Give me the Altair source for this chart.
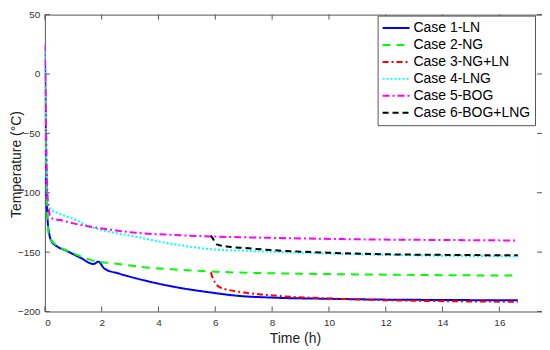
import altair as alt
import pandas as pd

cases = ["Case 1-LN", "Case 2-NG", "Case 3-NG+LN", "Case 4-LNG", "Case 5-BOG", "Case 6-BOG+LNG"]
colors = ["#0000FF", "#00FF00", "#FF0000", "#00FFFF", "#FF00FF", "#000000"]
dashes = [[1, 0], [8, 6], [6, 3, 2, 3], [2, 2], [7, 3, 2, 3], [6, 4]]

c1_x = [0, 0.02, 0.04, 0.07, 0.1, 0.15, 0.24, 0.42, 0.77, 1.24, 1.72, 1.88, 2.1, 2.6, 3.2, 4.5, 5.84, 6.8, 8.0, 10, 12, 14, 16.65]
c1_y = [25, -20, -70, -110, -124, -134, -141, -145, -149, -154.6, -160, -158, -164, -168, -172, -179, -184, -186.8, -188.3, -189.3, -190, -190.3, -190.6]
c2_x = [0, 0.02, 0.05, 0.08, 0.13, 0.2, 0.3, 0.5, 0.8, 1.2, 1.6, 2.6, 3.4, 4.5, 6, 8, 10, 12, 14, 16.65]
c2_y = [25, -25, -80, -115, -134, -139, -142, -145.5, -149, -153, -156.5, -160, -162.5, -164.5, -166.5, -167.8, -168.5, -169, -169.4, -169.8]
c3_x = [5.84, 5.9, 6.0, 6.15, 6.5, 7.0, 8.0, 10, 12, 14, 16.65]
c3_y = [-167, -171, -176, -179.5, -182, -184, -186.5, -189, -190.5, -191.3, -191.8]
c4_x = [0, 0.02, 0.05, 0.08, 0.13, 0.2, 0.5, 1.0, 1.6, 2.3, 3.2, 4.0, 5.0, 5.84, 7, 8, 10, 12, 14, 16.65]
c4_y = [25, -10, -60, -100, -110, -113.5, -117.5, -122, -128.6, -133, -137, -141, -145, -147.5, -148.8, -149.7, -151.2, -152.3, -153, -153.5]
c5_x = [0, 0.02, 0.05, 0.1, 0.19, 0.3, 0.54, 1.0, 1.6, 2.5, 3.2, 4.5, 5.84, 8, 11, 14, 16.65]
c5_y = [25, -10, -60, -105, -120, -122, -123, -125.8, -128.6, -131.8, -133.7, -135.5, -136.8, -138, -139.2, -139.8, -140.2]
c6_x = [5.84, 5.9, 5.95, 6.05, 6.5, 7.0, 8.0, 10, 12, 14, 16.65]
c6_y = [-136, -138, -140, -143.5, -145.5, -146.5, -148.3, -150.5, -151.8, -152.3, -152.7]

x_ticks = [0, 2, 4, 6, 8, 10, 12, 14, 16]
y_ticks = [-200, -150, -100, -50, 0, 50]

W, H = 499, 298
FONT = "Liberation Sans"

series = [(c1_x, c1_y), (c2_x, c2_y), (c3_x, c3_y), (c4_x, c4_y), (c5_x, c5_y), (c6_x, c6_y)]
rows = []
for name, (xs, ys) in zip(cases, series):
    for i, (xv, yv) in enumerate(zip(xs, ys)):
        rows.append({"case": name, "t": xv, "T": yv, "i": i})
df = pd.DataFrame(rows)

xscale = alt.Scale(domain=[0, 17.5], nice=False, zero=False)
yscale = alt.Scale(domain=[-200, 50], nice=False, zero=False)

lines = alt.Chart(df).mark_line(strokeWidth=2, interpolate="monotone", clip=True).encode(
    x=alt.X("t:Q", scale=xscale, axis=alt.Axis(
        values=x_ticks, title="Time (h)", ticks=False, domain=False, grid=False,
        labelFont=FONT, labelFontSize=10, labelColor="#333333", labelPadding=6,
        titleFont=FONT, titleFontSize=14, titleFontWeight="normal", titleColor="#222222",
        titleX=251, titleY=27, titleBaseline="middle")),
    y=alt.Y("T:Q", scale=yscale, axis=alt.Axis(
        values=y_ticks, title="Temperature (°C)", ticks=False, domain=False, grid=False,
        labelFont=FONT, labelFontSize=10, labelColor="#333333", labelPadding=5,
        titleFont=FONT, titleFontSize=14, titleFontWeight="normal", titleColor="#222222",
        titleX=-28, titleY=150, titleBaseline="middle", titleAngle=270)),
    color=alt.Color("case:N", scale=alt.Scale(domain=cases, range=colors),
                    legend=alt.Legend(title=None)),
    strokeDash=alt.StrokeDash("case:N", scale=alt.Scale(domain=cases, range=dashes),
                              legend=alt.Legend(title=None)),
    order="i:Q",
)

tx = pd.DataFrame({"v": x_ticks})
ty = pd.DataFrame({"v": y_ticks})
tick_col = "#555555"
xt_bot = alt.Chart(tx).mark_rule(color=tick_col, strokeWidth=1).encode(
    x=alt.X("v:Q", scale=xscale), y=alt.value(H), y2=alt.value(H - 5))
xt_top = alt.Chart(tx).mark_rule(color=tick_col, strokeWidth=1).encode(
    x=alt.X("v:Q", scale=xscale), y=alt.value(0), y2=alt.value(5))
yt_left = alt.Chart(ty).mark_rule(color=tick_col, strokeWidth=1).encode(
    y=alt.Y("v:Q", scale=yscale), x=alt.value(0), x2=alt.value(5))
yt_right = alt.Chart(ty).mark_rule(color=tick_col, strokeWidth=1).encode(
    y=alt.Y("v:Q", scale=yscale), x=alt.value(W), x2=alt.value(W - 5))

chart = alt.layer(lines, xt_bot, xt_top, yt_left, yt_right).properties(
    width=W, height=H,
    autosize=alt.AutoSizeParams(type="none"),
    padding={"left": 37, "top": 6, "right": 0, "bottom": 36},
).configure_view(
    stroke="#555555", strokeWidth=1
).configure_legend(
    orient="none", legendX=334, legendY=1,
    strokeColor="#555555", fillColor="white", padding=4, rowPadding=0,
    clipHeight=17,
    labelFont=FONT, labelFontSize=14, labelColor="#000000", labelOffset=3,
    symbolType="stroke", symbolSize=729, symbolStrokeWidth=2, labelLimit=300,
)

chart.save("out.html", embed_options={"renderer": "svg", "actions": False})
